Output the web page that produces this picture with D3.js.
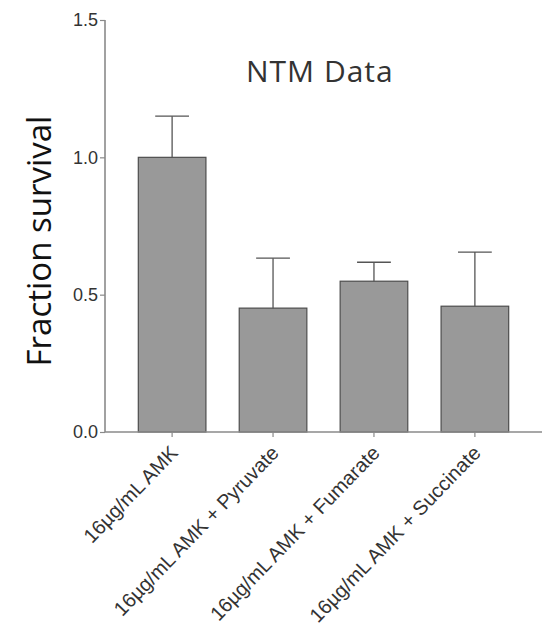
<!DOCTYPE html>
<html>
<head>
<meta charset="utf-8">
<script src="https://cdn.jsdelivr.net/npm/d3@7"></script>
<style>
  html, body { margin: 0; padding: 0; background: #fff; }
  svg { display: block; }
</style>
</head>
<body>
<svg id="chart" width="547" height="629"></svg>
<script>
const categories = ["16µg/mL AMK", "16µg/mL AMK + Pyruvate", "16µg/mL AMK + Fumarate", "16µg/mL AMK + Succinate"];
const means = [1.0, 0.451, 0.549, 0.458];
const errorTops = [1.15, 0.633, 0.618, 0.655];
const yTicks = [0.0, 0.5, 1.0, 1.5];
const titleText = "NTM Data";
const yLabel = "Fraction survival";

const svg = d3.select("#chart");
const x0 = 105, x1 = 542, yBottom = 432, yTop = 20;

const x = d3.scaleBand().domain(categories).range([x0, x1]).paddingInner(0.33).paddingOuter(0.33);
const y = d3.scaleLinear().domain([0, 1.5]).range([yBottom, yTop]);

// bars
svg.append("g").selectAll("rect").data(categories).join("rect")
  .attr("x", d => x(d))
  .attr("y", (d, i) => y(means[i]))
  .attr("width", x.bandwidth())
  .attr("height", (d, i) => y(0) - y(means[i]))
  .attr("fill", "#999999")
  .attr("stroke", "#4d4d4d")
  .attr("stroke-width", 1.2);

// error bars
const eg = svg.append("g").attr("stroke", "#555").attr("stroke-width", 1.3);
categories.forEach((c, i) => {
  const cx = x(c) + x.bandwidth() / 2;
  eg.append("line").attr("x1", cx).attr("x2", cx).attr("y1", y(means[i])).attr("y2", y(errorTops[i]));
  eg.append("line").attr("x1", cx - x.bandwidth() / 4).attr("x2", cx + x.bandwidth() / 4)
    .attr("y1", y(errorTops[i])).attr("y2", y(errorTops[i]));
});

// y axis
const yAxis = svg.append("g").attr("transform", `translate(${x0},0)`)
  .call(d3.axisLeft(y).tickValues(yTicks).tickFormat(d3.format(".1f")).tickSize(5).tickPadding(2));
yAxis.select(".domain").attr("stroke", "#8a8a8a").attr("stroke-width", 1.6).attr("d", `M0,${yTop}V${yBottom}`);
yAxis.selectAll(".tick line").attr("stroke", "#8a8a8a").attr("stroke-width", 1.2);
yAxis.selectAll(".tick text").attr("font-family", "Liberation Sans, Arial, sans-serif")
  .attr("font-size", 18).attr("fill", "#333");

// x axis
const xAxis = svg.append("g").attr("transform", `translate(0,${yBottom})`)
  .call(d3.axisBottom(x).tickSize(5).tickSizeOuter(0));
xAxis.select(".domain").attr("stroke", "#8a8a8a").attr("stroke-width", 1.6).attr("d", `M${x0},0H${x1}`);
xAxis.selectAll(".tick line").attr("stroke", "#8a8a8a").attr("stroke-width", 1.2);
xAxis.selectAll(".tick text")
  .attr("font-family", "Liberation Sans, Arial, sans-serif")
  .attr("font-size", 20).attr("fill", "#333")
  .attr("text-anchor", "end")
  .attr("x", 0).attr("y", 0).attr("dy", 0)
  .attr("transform", "translate(7,22) rotate(-46)");

// title
svg.append("text").attr("x", 246).attr("y", 82)
  .attr("text-anchor", "start")
  .attr("font-family", "Open Sans, sans-serif").attr("font-size", 30)
  .attr("letter-spacing", 1).attr("fill", "#333").text(titleText);

// y label
svg.append("text").attr("transform", "translate(51,241) rotate(-90)")
  .attr("text-anchor", "middle")
  .attr("font-family", "Open Sans, sans-serif").attr("font-size", 33)
  .attr("fill", "#111").text(yLabel);
</script>
</body>
</html>
